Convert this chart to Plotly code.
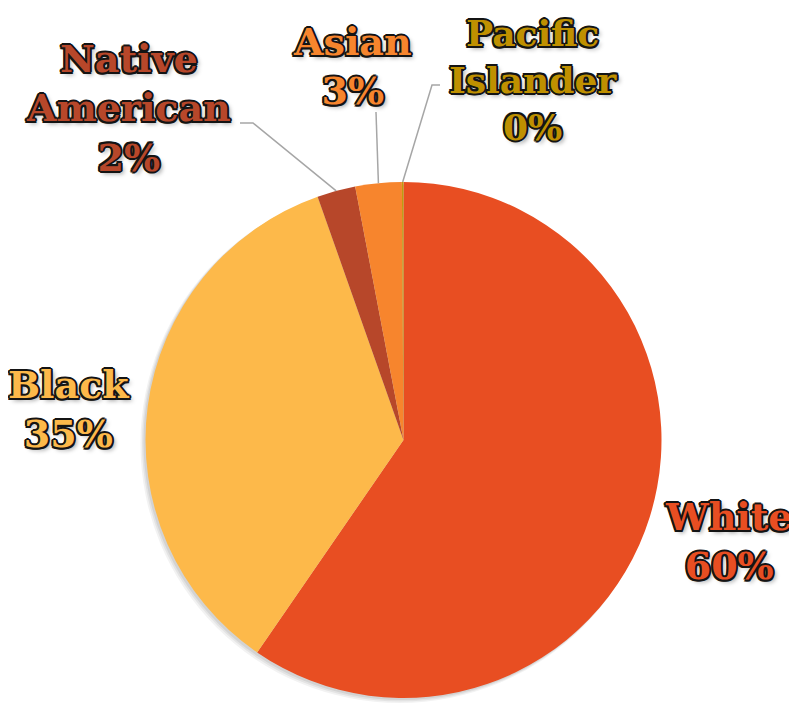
import math
import plotly.graph_objects as go

# ---- data ----
categories = ["White", "Black", "Native American", "Asian", "Pacific Islander"]
values = [59.6, 35.0, 2.4, 2.9, 0.1]
label_text = ["White", "Black", "Native<br>American", "Asian", "Pacific<br>Islander"]
slice_colors = ["#E84E22", "#FDB94A", "#B7472A", "#F7852D", "#C09A10"]
text_colors = ["#E84E22", "#FDB94A", "#B7472A", "#F7852D", "#BF9000"]

# page is 797x703; the plot div sits at the default 8px body margin
OFF = 8
W, H = 797 - OFF, 703 - OFF
# pie placement (page pixels)
CX, CY, R = 403.5, 440.0, 258.0

def px(x):
    return (x - OFF) / W

def py(y):
    return 1 - (y - OFF) / H

def clamp(v):
    return min(1.0, max(0.0, v))

dom_x = [px(CX - R), px(CX + R)]
dom_y = [py(CY + R), py(CY - R)]

fig = go.Figure()

# soft shadow behind pie
for dx, dy, grow, a in [(-4, 4, 1, 0.05), (-3, 3, 0.5, 0.06), (-2, 2, 0, 0.07)]:
    rr = R + grow
    fig.add_trace(go.Pie(
        values=[1], labels=["s"], sort=False, textinfo="none", hoverinfo="skip",
        marker=dict(colors=[f"rgba(0,0,0,{a})"], line=dict(width=0)),
        domain=dict(x=[clamp(px(CX + dx - rr)), clamp(px(CX + dx + rr))],
                    y=[clamp(py(CY + dy + rr)), clamp(py(CY + dy - rr))]),
        showlegend=False,
    ))

fig.add_trace(go.Pie(
    labels=categories, values=values, sort=False, direction="clockwise", rotation=0,
    textinfo="none", hoverinfo="label+percent",
    marker=dict(colors=slice_colors, line=dict(width=0)),
    domain=dict(x=dom_x, y=dom_y), showlegend=False,
))

# label positions (page pixel centers) and sizes
label_pos = {
    "White": (728, 541),
    "Black": (68, 409),
    "Native American": (129, 108),
    "Asian": (352, 66),
    "Pacific Islander": (533, 80),
}
label_size = {"Pacific Islander": 36}
# leader line elbows (page pixels) for small slices
elbows = {
    "Native American": [(240, 123), (253, 123)],
    "Asian": [(376, 112)],
    "Pacific Islander": [(440, 85), (432, 85)],
}

total = sum(values)
o = "#141414"
shadow = (f"-1.5px -1.5px 0 {o}, 1.5px -1.5px 0 {o}, -1.5px 1.5px 0 {o}, 1.5px 1.5px 0 {o}, "
          f"0px -2px 0 {o}, 0px 2px 0 {o}, -2px 0px 0 {o}, 2px 0px 0 {o}, "
          "3px 3px 4px rgba(0,0,0,0.35)")
cum = 0.0
for cat, v, lt, tc in zip(categories, values, label_text, text_colors):
    mid = (cum + v / 2) / total * 2 * math.pi
    cum += v
    ex = CX + R * math.sin(mid)
    ey = CY - R * math.cos(mid)
    if cat in elbows:
        pts = elbows[cat] + [(ex, ey)]
        path = "M " + " L ".join(f"{px(x):.5f},{py(y):.5f}" for x, y in pts)
        fig.add_shape(type="path", path=path, xref="paper", yref="paper",
                      line=dict(color="#A6A6A6", width=1.5))
    lx, ly = label_pos[cat]
    fig.add_annotation(
        x=px(lx), y=py(ly), xref="paper", yref="paper", showarrow=False,
        xanchor="center", yanchor="middle", align="center",
        text=f"<b>{lt}<br>{round(v / total * 100)}%</b>",
        font=dict(family="DejaVu Serif", size=label_size.get(cat, 38), color=tc,
                  shadow=shadow),
    )

fig.update_layout(
    width=W, height=H, margin=dict(l=0, r=0, t=0, b=0),
    paper_bgcolor="white", plot_bgcolor="white",
)
fig.write_html("out.html")
